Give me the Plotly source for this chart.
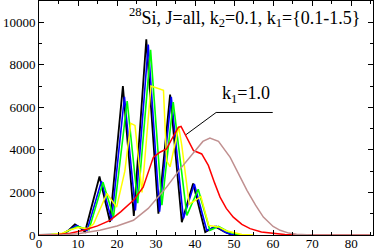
import plotly.graph_objects as go

black_x = [0, 3, 6, 7.5, 9.2, 10.5, 11.8, 15.5, 18.2, 21.5, 24.3, 27.5, 30.6, 33.6, 36.6, 39.5, 42.6, 45.1, 47.5, 49.5, 52]
black_y = [0, 0, 30, 200, 500, 350, 150, 2750, 610, 7000, 900, 9200, 1000, 6600, 600, 2420, 140, 400, 150, 0, 0]

blue_x = [0, 3, 6, 8, 9.6, 11, 12.3, 16, 18.6, 21.9, 24.7, 28, 30.9, 33.9, 37, 39.8, 43, 45.5, 48, 50, 53]
blue_y = [0, 0, 40, 250, 450, 300, 200, 2530, 690, 6500, 1150, 8950, 1100, 6500, 770, 2400, 220, 400, 100, 0, 0]

green_x = [0, 3, 6, 8, 10, 11.5, 12.8, 16.4, 19.1, 22.6, 25.3, 28.6, 31.5, 34.4, 37.9, 40.8, 43.8, 46, 48.5, 51, 54]
green_y = [0, 10, 60, 250, 400, 300, 250, 2480, 850, 6300, 1500, 8700, 1400, 6250, 920, 2150, 220, 400, 150, 20, 0]

yellow_x = [0, 3, 6, 8, 10, 12.5, 14, 17.4, 19.9, 22, 23.5, 24.6, 26.4, 28.7, 31.9, 32.7, 33.6, 35.8, 36.6, 38.5, 41.5, 43.5, 46, 48, 52, 55]
yellow_y = [0, 20, 80, 250, 350, 300, 530, 1950, 1310, 3000, 5250, 5150, 2000, 7000, 6800, 3500, 3200, 5100, 4200, 1450, 1800, 450, 380, 200, 20, 0]

red_x = [0, 5, 8, 11.4, 15, 18.2, 21, 24.2, 26.7, 28, 29.3, 31, 32.7, 34, 35.7, 36.4, 37.5, 39.6, 41.7, 43.4, 45, 46.4, 48, 49.8, 52, 54.1, 57, 60, 63, 66, 85]
red_y = [0, 20, 80, 220, 430, 690, 1100, 1630, 2250, 2900, 3650, 3890, 4050, 4500, 5060, 5100, 4700, 3970, 3810, 3270, 2450, 1780, 1250, 840, 500, 300, 140, 65, 20, 0, 0]

brown_x = [0, 6, 10, 15.6, 20, 24.2, 28, 32.7, 36.2, 39.6, 42, 43.8, 46, 49, 51, 53.3, 55.5, 57.5, 60, 61.8, 64, 66, 70, 75, 85]
brown_y = [0, 10, 60, 220, 420, 690, 1250, 2250, 3110, 3890, 4400, 4560, 4400, 3650, 2900, 2100, 1400, 840, 400, 220, 90, 30, 5, 0, 0]

series = [
    (black_x, black_y, "#000000", 1.8),
    (blue_x, blue_y, "#0000ff", 1.6),
    (green_x, green_y, "#00ff00", 1.6),
    (yellow_x, yellow_y, "#ffff00", 1.5),
    (red_x, red_y, "#ff0000", 1.5),
    (brown_x, brown_y, "#c09090", 1.5),
]

title_text = "<sup>28</sup>Si, J=all, k<sub>2</sub>=0.1, k<sub>1</sub>={0.1-1.5}"
label_text = "k<sub>1</sub>=1.0"
leader_x = [37.7, 45.4, 59.9]
leader_y = [4720, 5760, 5760]

font_family = "Liberation Serif"

fig = go.Figure()
for xs, ys, c, w in series:
    fig.add_trace(go.Scatter(x=xs, y=ys, mode="lines", line=dict(color=c, width=w), showlegend=False))

fig.add_trace(go.Scatter(x=leader_x, y=leader_y, mode="lines", line=dict(color="black", width=1), showlegend=False))

fig.add_annotation(text=title_text, xref="paper", yref="paper", x=0.262, y=0.93,
                   xanchor="left", yanchor="middle", showarrow=False,
                   font=dict(family=font_family, size=18, color="black"))
fig.add_annotation(text=label_text, xref="paper", yref="paper", x=0.62, y=0.60,
                   xanchor="center", yanchor="middle", showarrow=False,
                   font=dict(family=font_family, size=18, color="black"))

axis_common = dict(showline=True, linecolor="black", linewidth=1, mirror="ticks",
                   ticks="inside", ticklen=5, tickwidth=1, tickcolor="black",
                   showgrid=False, zeroline=False, automargin=False,
                   tickfont=dict(family=font_family, size=13, color="black"))

fig.update_xaxes(range=[0, 85.6], dtick=10, tick0=0, ticklabelstandoff=-4,
                 minor=dict(dtick=5, ticks="inside", ticklen=3, tickcolor="black", showgrid=False),
                 **axis_common)
fig.update_yaxes(range=[0, 11000], dtick=2000, tick0=0, tickformat="d",
                 minor=dict(dtick=1000, ticks="inside", ticklen=3, tickcolor="black", showgrid=False),
                 **axis_common)

fig.update_layout(width=374, height=249, margin=dict(l=39, r=1, t=1, b=14),
                  plot_bgcolor="white", paper_bgcolor="white",
                  font=dict(family=font_family))

fig.write_html("out.html", config={"displayModeBar": False, "staticPlot": True},
               post_script="document.body.style.margin='0';document.body.style.overflow='hidden';")
